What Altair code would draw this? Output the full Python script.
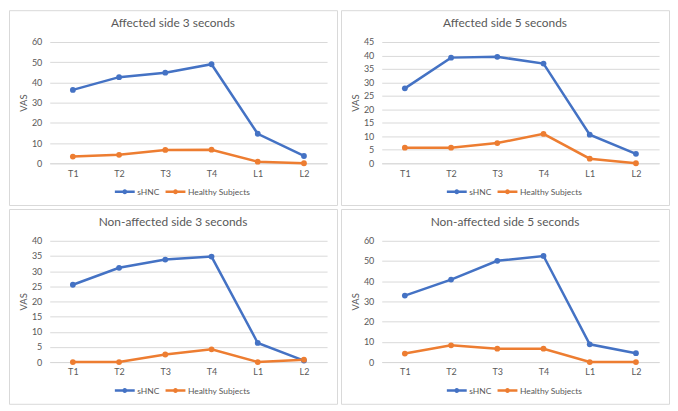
import altair as alt
import pandas as pd

timepoints = ["T1", "T2", "T3", "T4", "L1", "L2"]
groups = ["sHNC", "Healthy Subjects"]
panel_titles = [
    "Affected side 3 seconds",
    "Affected side 5 seconds",
    "Non-affected side 3 seconds",
    "Non-affected side 5 seconds",
]
y_max = [60, 45, 40, 60]
y_step = [10, 5, 5, 10]

aff3_shnc = [36.3, 42.6, 44.8, 49.0, 14.6, 3.6]
aff3_healthy = [3.3, 4.2, 6.6, 6.7, 0.8, 0.0]
aff5_shnc = [27.8, 39.2, 39.5, 37.0, 10.6, 3.5]
aff5_healthy = [5.8, 5.8, 7.5, 10.9, 1.7, 0.0]
non3_shnc = [25.5, 31.1, 33.8, 34.8, 6.3, 0.5]
non3_healthy = [0.0, 0.0, 2.5, 4.2, 0.0, 0.8]
non5_shnc = [32.9, 40.8, 50.1, 52.5, 8.8, 4.4]
non5_healthy = [4.2, 8.3, 6.6, 6.6, 0.0, 0.0]

series = [
    (aff3_shnc, aff3_healthy),
    (aff5_shnc, aff5_healthy),
    (non3_shnc, non3_healthy),
    (non5_shnc, non5_healthy),
]
colors = ["#4472C4", "#ED7D31"]

W, H = 330, 196
GL, GR = 41, 320
YT, Y0 = 32, 154
TXT = "#595959"
GRID = "#d9d9d9"
FONT = "Lato"
LEG_PATH = "M-1,0H1M0.12,0A0.12,0.12,0,1,1,-0.12,0A0.12,0.12,0,1,1,0.12,0"


def panel(title, shnc, healthy, ymax, step):
    rows = []
    for g, vals in zip(groups, [shnc, healthy]):
        for t, v in zip(timepoints, vals):
            rows.append({"time": t, "VAS": v, "group": g, "order": groups.index(g)})
    df = pd.DataFrame(rows)
    return (
        alt.Chart(df)
        .mark_line(point=alt.OverlayMarkDef(filled=True, size=34), strokeWidth=2.5)
        .encode(
            x=alt.X(
                "time:N",
                sort=timepoints,
                scale=alt.Scale(type="point", range=[GL, GR], padding=0.5),
                axis=alt.Axis(
                    orient="bottom", offset=-(H - Y0), domain=True, domainColor=GRID,
                    ticks=False, grid=False, labelPadding=6, labelAngle=0,
                    labelFontSize=9, labelColor=TXT, labelFont=FONT, title=None,
                ),
            ),
            y=alt.Y(
                "VAS:Q",
                scale=alt.Scale(domain=[0, ymax], range=[Y0, YT], nice=False, zero=True),
                axis=alt.Axis(
                    values=list(range(0, ymax + 1, step)), offset=-GL, domain=False,
                    ticks=False, grid=True, gridColor=GRID, gridWidth=1, labelPadding=8,
                    labelFontSize=9, labelColor=TXT, labelFont=FONT,
                    title="VAS", titleFontSize=9.5, titleFontWeight="normal",
                    titleColor=TXT, titleFont=FONT, titlePadding=3,
                ),
            ),
            color=alt.Color(
                "group:N",
                sort=groups,
                scale=alt.Scale(domain=groups, range=colors),
                legend=alt.Legend(
                    orient="none", legendX=105, legendY=171, direction="horizontal",
                    title=None, symbolType=LEG_PATH, symbolSize=400,
                    symbolStrokeWidth=2.5, labelFontSize=8.5, labelColor=TXT,
                    labelFont=FONT, labelOffset=1, columnPadding=0,
                ),
            ),
            order=alt.Order("order:Q"),
        )
        .properties(
            width=W,
            height=H,
            title=alt.TitleParams(
                text=title, fontSize=12, font=FONT, color=TXT, fontWeight="normal",
                anchor="middle", frame="group", offset=-20,
            ),
        )
    )


panels = [
    panel(t, s[0], s[1], m, st)
    for t, s, m, st in zip(panel_titles, series, y_max, y_step)
]

chart = (
    alt.concat(*panels, columns=2, spacing=2)
    .resolve_scale(color="independent", x="independent", y="independent")
    .resolve_legend(color="independent")
    .properties(padding=0, background="white")
    .configure_view(stroke=GRID, strokeWidth=1)
)

chart.save("out.html", embed_options={"renderer": "svg", "actions": False})
